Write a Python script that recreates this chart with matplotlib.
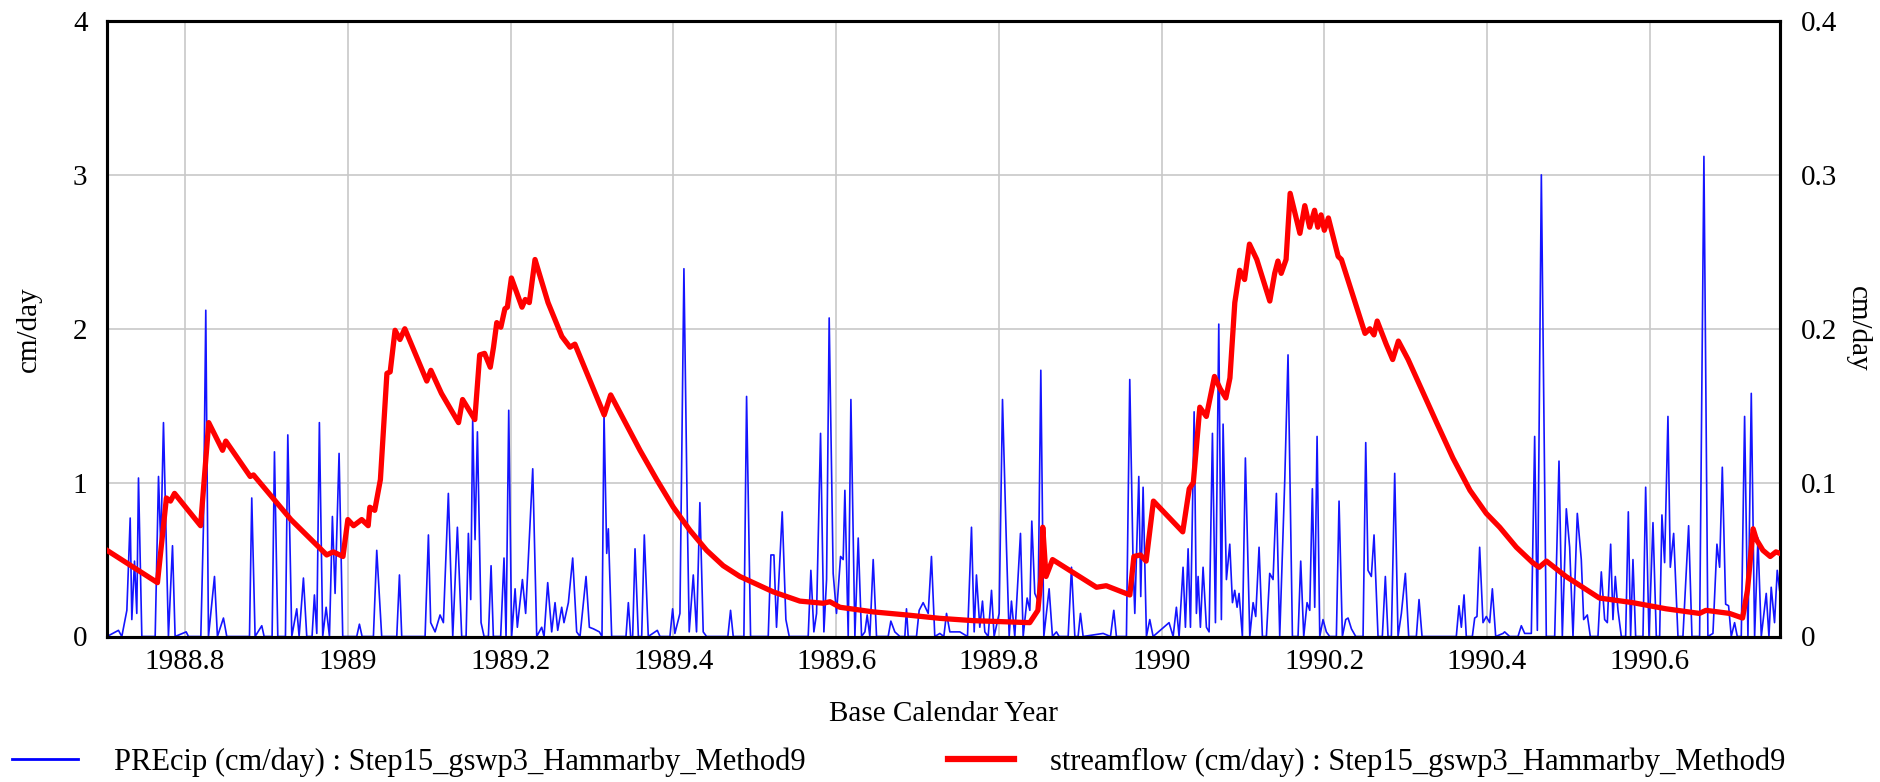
import matplotlib
matplotlib.use("Agg")
import matplotlib.pyplot as plt
from matplotlib.lines import Line2D

# precip (cm/day) as (year, value) pairs
precip_t = [
    1988.704, 1988.7181, 1988.7222, 1988.7284, 1988.7325, 1988.7345, 1988.7378, 1988.7406, 1988.7427, 1988.7468,
    1988.7632, 1988.7673, 1988.7701, 1988.7734, 1988.7795, 1988.7845, 1988.7877, 1988.8013, 1988.8041,
    1988.8193, 1988.8225, 1988.8254, 1988.8287, 1988.8361, 1988.8397, 1988.8471, 1988.8512,
    1988.8791, 1988.8819, 1988.8860, 1988.8942, 1988.8971, 1988.9069, 1988.9098, 1988.9139,
    1988.9233, 1988.9262, 1988.9311, 1988.9372, 1988.9401, 1988.9454, 1988.9495, 1988.9560, 1988.9589,
    1988.9618, 1988.9650, 1988.9691, 1988.9733, 1988.9774, 1988.9810, 1988.9843, 1988.9892, 1988.9937,
    1989.0109, 1989.0142, 1989.0175, 1989.0314, 1989.0355, 1989.0416,
    1989.0601, 1989.0634, 1989.0662, 1989.0949, 1989.0990, 1989.1018, 1989.1072, 1989.1133, 1989.1174,
    1989.1235, 1989.1289, 1989.1346, 1989.1399, 1989.1453, 1989.1481, 1989.1510, 1989.1534, 1989.1563,
    1989.1592, 1989.1637, 1989.1674, 1989.1727, 1989.1760, 1989.1788, 1989.1878, 1989.1919, 1989.1944,
    1989.1977, 1989.2013, 1989.2055, 1989.2083, 1989.2145, 1989.2185, 1989.2272, 1989.2321, 1989.2382,
    1989.2411, 1989.2456, 1989.2505, 1989.2546, 1989.2579, 1989.2628, 1989.2656, 1989.2710, 1989.2763,
    1989.2812, 1989.2853, 1989.2927, 1989.2968, 1989.3017, 1989.3091, 1989.3123, 1989.3148, 1989.3181,
    1989.3201, 1989.3242, 1989.3418, 1989.3447, 1989.3475, 1989.3500, 1989.3529, 1989.3570, 1989.3611,
    1989.3643, 1989.3692, 1989.3803, 1989.3836,
    1989.3958, 1989.3991, 1989.4019, 1989.4081, 1989.4130, 1989.4171, 1989.4195, 1989.4245, 1989.4285,
    1989.4326, 1989.4367, 1989.4408, 1989.4670, 1989.4703, 1989.4736, 1989.4867, 1989.4900, 1989.4949,
    1989.5166, 1989.5199, 1989.5236, 1989.5268, 1989.5338, 1989.5383, 1989.5424, 1989.5657, 1989.5690,
    1989.5727, 1989.5760, 1989.5809, 1989.5850, 1989.5883, 1989.5915, 1989.5964, 1989.6005, 1989.6055,
    1989.6087, 1989.6108, 1989.6149, 1989.6182, 1989.6231, 1989.6272, 1989.6313, 1989.6354, 1989.6382,
    1989.6415, 1989.6456, 1989.6497, 1989.6640, 1989.6673, 1989.6722, 1989.6784, 1989.6845, 1989.6865,
    1989.6886, 1989.6988, 1989.7021, 1989.7070, 1989.7132, 1989.7172, 1989.7213, 1989.7275,
    1989.7324, 1989.7357, 1989.7398, 1989.7521, 1989.7615, 1989.7664, 1989.7697, 1989.7725, 1989.7766,
    1989.7799, 1989.7828, 1989.7869, 1989.7910, 1989.7942, 1989.8004, 1989.8045, 1989.8094, 1989.8127,
    1989.8155, 1989.8196, 1989.8266, 1989.8299, 1989.8348, 1989.8381, 1989.8405, 1989.8442, 1989.8483,
    1989.8516, 1989.8553, 1989.8618, 1989.8659, 1989.8708, 1989.8741, 1989.8852, 1989.8893, 1989.8934,
    1989.8974, 1989.9003, 1989.9036, 1989.9282, 1989.9372, 1989.9413, 1989.9445, 1989.9568, 1989.9609,
    1989.9650, 1989.9671, 1989.9720, 1989.9744, 1989.9773, 1989.9814, 1989.9855, 1989.9896, 1990.0092,
    1990.0142, 1990.0182, 1990.0215, 1990.0264, 1990.0293, 1990.0326, 1990.0355, 1990.0400, 1990.0428,
    1990.0449, 1990.0477, 1990.0510, 1990.0551, 1990.0584, 1990.0625, 1990.0662, 1990.0703, 1990.0735,
    1990.0756, 1990.0797, 1990.0838, 1990.0871, 1990.0899, 1990.0928, 1990.0952, 1990.0993, 1990.1030,
    1990.1084, 1990.1125, 1990.1157, 1990.1198, 1990.1239, 1990.1288, 1990.1329, 1990.1370, 1990.1411,
    1990.1452, 1990.1514, 1990.1554, 1990.1608, 1990.1677, 1990.1710, 1990.1747, 1990.1788, 1990.1821,
    1990.1853, 1990.1882, 1990.1911, 1990.1944, 1990.1984, 1990.2025, 1990.2066, 1990.2148, 1990.2181,
    1990.2222, 1990.2263, 1990.2292, 1990.2333, 1990.2386, 1990.2476, 1990.2509, 1990.2537, 1990.2578,
    1990.2611, 1990.2660, 1990.2713, 1990.2750, 1990.2783, 1990.2824, 1990.2865, 1990.2906, 1990.2947,
    1990.2996, 1990.3037, 1990.3131, 1990.3164, 1990.3201, 1990.3622, 1990.3655, 1990.3684, 1990.3717,
    1990.3745, 1990.3819, 1990.3848, 1990.3876, 1990.3909, 1990.3950, 1990.3991, 1990.4032, 1990.4065,
    1990.4106, 1990.4196, 1990.4216, 1990.4278, 1990.4380, 1990.4421, 1990.4462, 1990.4544, 1990.4585,
    1990.4618, 1990.4667, 1990.4728, 1990.4831, 1990.4884, 1990.4925, 1990.4974, 1990.5015, 1990.5056,
    1990.5109, 1990.5158, 1990.5187, 1990.5232, 1990.5269, 1990.5363, 1990.5404, 1990.5445, 1990.5478,
    1990.5519, 1990.5547, 1990.5576, 1990.5609, 1990.5650, 1990.5703, 1990.5736, 1990.5764, 1990.5793,
    1990.5826, 1990.5916, 1990.5949, 1990.5990, 1990.6039, 1990.6080, 1990.6121, 1990.6149, 1990.6182,
    1990.6223, 1990.6252, 1990.6293, 1990.6346, 1990.6407, 1990.6477, 1990.6518, 1990.6612, 1990.6665,
    1990.6714, 1990.6776, 1990.6825, 1990.6858, 1990.6891, 1990.6932, 1990.6968, 1990.7001, 1990.7042,
    1990.7075, 1990.7124, 1990.7165, 1990.7206, 1990.7247, 1990.7288, 1990.7329, 1990.7370, 1990.7431,
    1990.7464, 1990.7492, 1990.7533, 1990.7566, 1990.7595,
]
precip_v = [
    0.0, 0.04, 0.0, 0.17, 0.77, 0.11, 0.49, 0.15, 1.03, 0.0,
    0.0, 1.04, 0.58, 1.39, 0.0, 0.59, 0.0, 0.03, 0.0,
    0.0, 0.71, 2.12, 0.0, 0.39, 0.0, 0.12, 0.0,
    0.0, 0.90, 0.0, 0.07, 0.0, 0.0, 1.20, 0.0,
    0.0, 1.31, 0.0, 0.18, 0.0, 0.38, 0.0, 0.0, 0.27,
    0.02, 1.39, 0.0, 0.19, 0.0, 0.78, 0.28, 1.19, 0.0,
    0.0, 0.08, 0.0, 0.0, 0.56, 0.0,
    0.0, 0.40, 0.0, 0.0, 0.66, 0.09, 0.03, 0.14, 0.09,
    0.93, 0.0, 0.71, 0.0, 0.0, 0.67, 0.24, 1.41, 0.63,
    1.33, 0.09, 0.0, 0.0, 0.46, 0.0, 0.0, 0.51, 0.0,
    1.47, 0.0, 0.31, 0.06, 0.37, 0.15, 1.09, 0.0, 0.06,
    0.0, 0.35, 0.03, 0.22, 0.04, 0.19, 0.09, 0.22, 0.51,
    0.03, 0.0, 0.39, 0.06, 0.05, 0.03, 0.0, 1.45, 0.54,
    0.70, 0.0, 0.0, 0.22, 0.0, 0.0, 0.57, 0.0, 0.0,
    0.66, 0.0, 0.04, 0.0,
    0.0, 0.18, 0.02, 0.15, 2.39, 0.80, 0.03, 0.40, 0.03,
    0.87, 0.03, 0.0, 0.0, 0.17, 0.0, 0.0, 1.56, 0.0,
    0.0, 0.53, 0.53, 0.06, 0.81, 0.11, 0.0, 0.0, 0.43,
    0.03, 0.15, 1.32, 0.03, 0.37, 2.07, 0.41, 0.15, 0.52,
    0.50, 0.95, 0.0, 1.54, 0.0, 0.64, 0.0, 0.03, 0.14,
    0.0, 0.50, 0.0, 0.0, 0.10, 0.03, 0.0, 0.0, 0.18,
    0.0, 0.0, 0.17, 0.22, 0.15, 0.52, 0.0, 0.02,
    0.0, 0.15, 0.03, 0.03, 0.0, 0.71, 0.03, 0.40, 0.06,
    0.23, 0.03, 0.0, 0.30, 0.0, 0.15, 1.54, 0.58, 0.0,
    0.23, 0.0, 0.67, 0.0, 0.25, 0.17, 0.75, 0.28, 0.23,
    1.73, 0.0, 0.31, 0.0, 0.03, 0.0, 0.0, 0.45, 0.0,
    0.0, 0.15, 0.0, 0.02, 0.0, 0.17, 0.0, 0.0, 1.67,
    0.47, 0.15, 1.04, 0.26, 0.97, 0.0, 0.11, 0.0, 0.09,
    0.0, 0.19, 0.0, 0.45, 0.06, 0.57, 0.06, 1.46, 0.15,
    0.39, 0.06, 0.45, 0.06, 0.03, 1.32, 0.09, 2.03, 0.11,
    1.38, 0.37, 0.60, 0.22, 0.30, 0.19, 0.28, 0.0, 1.16,
    0.0, 0.22, 0.13, 0.58, 0.0, 0.0, 0.41, 0.37, 0.93,
    0.0, 1.02, 1.83, 0.0, 0.0, 0.49, 0.0, 0.22, 0.17,
    0.96, 0.19, 1.30, 0.0, 0.11, 0.03, 0.0, 0.0, 0.88,
    0.0, 0.11, 0.12, 0.05, 0.0, 0.0, 1.26, 0.43, 0.39,
    0.66, 0.0, 0.0, 0.39, 0.0, 0.0, 1.06, 0.0, 0.15,
    0.41, 0.0, 0.0, 0.24, 0.0, 0.0, 0.20, 0.06, 0.27,
    0.0, 0.0, 0.12, 0.13, 0.58, 0.09, 0.13, 0.09, 0.31,
    0.0, 0.02, 0.03, 0.0, 0.0, 0.07, 0.02, 0.02, 1.30,
    0.04, 3.00, 0.0, 0.0, 1.14, 0.0, 0.83, 0.58, 0.0,
    0.80, 0.50, 0.11, 0.14, 0.0, 0.0, 0.42, 0.11, 0.09,
    0.60, 0.11, 0.39, 0.17, 0.0, 0.0, 0.81, 0.0, 0.50,
    0.0, 0.0, 0.97, 0.0, 0.74, 0.0, 0.0, 0.79, 0.48,
    1.43, 0.45, 0.67, 0.0, 0.0, 0.72, 0.0, 0.0, 3.12,
    0.0, 0.02, 0.60, 0.45, 1.10, 0.21, 0.20, 0.0, 0.09,
    0.0, 0.0, 1.43, 0.0, 1.58, 0.0, 0.64, 0.0, 0.28,
    0.0, 0.32, 0.09, 0.43, 0.30,
]

# streamflow (cm/day), right axis
flow_t = [
    1988.704, 1988.766, 1988.777, 1988.782, 1988.787, 1988.819, 1988.829, 1988.846, 1988.850, 1988.880,
    1988.884, 1988.930, 1988.974, 1988.982, 1988.994, 1989.000, 1989.007, 1989.017, 1989.025, 1989.027,
    1989.033, 1989.040, 1989.048, 1989.052, 1989.058, 1989.064, 1989.070, 1989.097, 1989.102, 1989.115,
    1989.136, 1989.141, 1989.156, 1989.162, 1989.168, 1989.175, 1989.179, 1989.183, 1989.188, 1989.193,
    1989.196, 1989.201, 1989.214, 1989.218, 1989.223, 1989.230, 1989.246, 1989.263, 1989.273, 1989.279,
    1989.315, 1989.323, 1989.340, 1989.359, 1989.3795, 1989.400, 1989.4204, 1989.4409, 1989.4613, 1989.4818,
    1989.5228, 1989.5555, 1989.5842, 1989.5924, 1989.6047, 1989.6456, 1989.6866, 1989.7275, 1989.7685, 1989.801,
    1989.838, 1989.848, 1989.852, 1989.854,
    1989.858, 1989.866, 1989.920, 1989.932, 1989.961, 1989.966, 1989.974, 1989.981, 1989.990, 1990.026,
    1990.034, 1990.039, 1990.047, 1990.055, 1990.065, 1990.072, 1990.079, 1990.084, 1990.090, 1990.096,
    1990.102, 1990.108, 1990.117, 1990.133, 1990.139, 1990.143, 1990.147, 1990.153, 1990.158, 1990.170,
    1990.176, 1990.182, 1990.188, 1990.192, 1990.196, 1990.200, 1990.205, 1990.217, 1990.221, 1990.250,
    1990.256, 1990.261, 1990.265, 1990.276, 1990.284, 1990.291, 1990.303, 1990.338, 1990.358, 1990.379,
    1990.399, 1990.4155,
    1990.436, 1990.456, 1990.464, 1990.473, 1990.497, 1990.538, 1990.579, 1990.620, 1990.661, 1990.669,
    1990.698, 1990.714, 1990.720, 1990.727, 1990.731, 1990.739, 1990.748, 1990.755, 1990.760,
]
flow_v = [
    0.056, 0.035, 0.090, 0.088, 0.093, 0.072, 0.139, 0.121, 0.127, 0.104,
    0.105, 0.076, 0.053, 0.055, 0.052, 0.076, 0.072, 0.076, 0.072, 0.084,
    0.082, 0.102, 0.171, 0.172, 0.199, 0.193, 0.200, 0.166, 0.173, 0.158,
    0.139, 0.154, 0.141, 0.183, 0.184, 0.175, 0.188, 0.204, 0.201, 0.213,
    0.214, 0.233, 0.214, 0.219, 0.217, 0.245, 0.217, 0.195, 0.188, 0.190,
    0.144, 0.157, 0.140, 0.121, 0.102, 0.084, 0.069, 0.056, 0.046, 0.039,
    0.029, 0.023, 0.0216, 0.0226, 0.019, 0.016, 0.014, 0.0118, 0.0103, 0.0097,
    0.009, 0.017, 0.039, 0.071,
    0.039, 0.050, 0.032, 0.033, 0.027, 0.052, 0.053, 0.049, 0.088, 0.068,
    0.096, 0.100, 0.149, 0.143, 0.169, 0.161, 0.155, 0.168, 0.217, 0.238,
    0.232, 0.255, 0.245, 0.218, 0.236, 0.244, 0.236, 0.245, 0.288, 0.262,
    0.280, 0.266, 0.277, 0.266, 0.274, 0.264, 0.272, 0.247, 0.245, 0.197,
    0.200, 0.196, 0.205, 0.190, 0.180, 0.192, 0.180, 0.139, 0.116, 0.095,
    0.080, 0.071,
    0.058, 0.048, 0.045, 0.049, 0.039, 0.025, 0.022, 0.018, 0.015, 0.017,
    0.015, 0.012, 0.030, 0.070, 0.063, 0.056, 0.052, 0.055, 0.054,
]

x_ticks = [1988.8, 1989.0, 1989.2, 1989.4, 1989.6, 1989.8, 1990.0, 1990.2, 1990.4, 1990.6]
x_labels = ["1988.8", "1989", "1989.2", "1989.4", "1989.6", "1989.8", "1990", "1990.2", "1990.4", "1990.6"]
left_ticks = [0, 1, 2, 3, 4]
right_ticks = [0, 0.1, 0.2, 0.3, 0.4]
right_labels = ["0", "0.1", "0.2", "0.3", "0.4"]

plt.rcParams["font.family"] = "Liberation Serif"
fs = 21

fig = plt.figure(figsize=(18.81, 7.82), dpi=100)
ax = fig.add_axes([107 / 1881, 1 - 636.5 / 782, (1780 - 107) / 1881, (636.5 - 21) / 782])
ax2 = ax.twinx()

ax.plot(precip_t, precip_v, color="#1414ff", lw=1.2, zorder=2)
ax2.plot(flow_t, flow_v, color="#ff0000", lw=3.8, solid_joinstyle="round", zorder=3)

ax.set_xlim(1988.704, 1990.760)
ax.set_ylim(0, 4)
ax2.set_ylim(0, 0.4)

ax.set_xticks(x_ticks)
ax.set_xticklabels(x_labels)
ax.set_yticks(left_ticks)
ax2.set_yticks(right_ticks)
ax2.set_yticklabels(right_labels)

ax.grid(True, color="#c8c8c8", lw=1.2)
ax.set_axisbelow(True)
ax.tick_params(axis="both", length=0, labelsize=fs, pad=9)
ax.tick_params(axis="y", pad=14)
ax2.tick_params(axis="y", length=0, labelsize=fs, pad=15)

for a in (ax, ax2):
    for s in a.spines.values():
        s.set_linewidth(2.2)
        s.set_color("black")

ax.set_xlabel("Base Calendar Year", fontsize=fs, labelpad=19)
ax.set_ylabel("cm/day", fontsize=fs, labelpad=22)
ax2.set_ylabel("cm/day", fontsize=fs, rotation=270, labelpad=24)

h1 = Line2D([], [], color="#0000ff", lw=2)
h2 = Line2D([], [], color="#ff0000", lw=4.5)
lfs = 22
fig.legend(handles=[h1], labels=["PREcip (cm/day) : Step15_gswp3_Hammarby_Method9"],
           loc="center left", bbox_to_anchor=(12 / 1881, 1 - 762 / 782), frameon=False,
           borderpad=0, borderaxespad=0, handlelength=66 / 30.5, handletextpad=36 / 30.5, fontsize=lfs)
fig.legend(handles=[h2], labels=["streamflow (cm/day) : Step15_gswp3_Hammarby_Method9"],
           loc="center left", bbox_to_anchor=(948 / 1881, 1 - 762 / 782), frameon=False,
           borderpad=0, borderaxespad=0, handlelength=66 / 30.5, handletextpad=36 / 30.5, fontsize=lfs)

fig.savefig("out.png", dpi=100)
